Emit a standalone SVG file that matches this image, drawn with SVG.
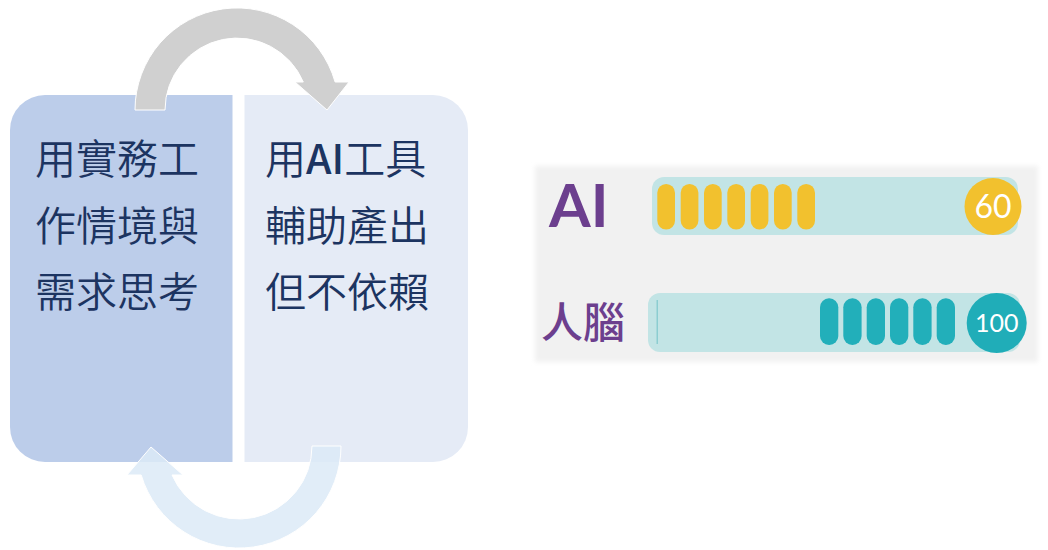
<svg xmlns="http://www.w3.org/2000/svg" width="1048" height="550" viewBox="0 0 1048 550">
<defs>
<style>
.cjk{font-family:"Noto Sans CJK TC","Noto Sans CJK SC",sans-serif;font-size:41px;font-weight:350;fill:#1C3461}
.lbl{font-family:"Noto Sans CJK TC","Noto Sans CJK SC",sans-serif;fill:#6C3F8E;font-weight:700}
.num{font-family:Lato,"Open Sans",sans-serif;fill:#FFFFFF;text-anchor:middle}
.bar{fill:#C2E4E5}
.py{fill:#F2C12E}
.pt{fill:#22AFBA}
</style>
<filter id="soft" x="-5%" y="-10%" width="110%" height="120%"><feGaussianBlur stdDeviation="2.5"/></filter>
</defs>
<rect width="1048" height="550" fill="#FFFFFF"/>
<g id="panel-left">
<path d="M45,95 H232.5 V462 H45 A35,35 0 0 1 10,427 V130 A35,35 0 0 1 45,95 Z" fill="#BCCDEA"/>
<text class="cjk" x="35" y="174">用實務工</text>
<text class="cjk" x="35" y="241">作情境與</text>
<text class="cjk" x="35" y="307">需求思考</text>
</g>
<g id="panel-right">
<path d="M244.5,95 H433 A35,35 0 0 1 468,130 V427 A35,35 0 0 1 433,462 H244.5 Z" fill="#E5EBF6"/>
<text class="cjk" x="265" y="174">用<tspan style="font-weight:500">AI</tspan>工具</text>
<text class="cjk" x="265" y="241">輔助產出</text>
<text class="cjk" x="265" y="307">但不依賴</text>
</g>
<g id="connectors">
<path d="M135,110 A102,102 0 0 1 335.1,82 L349,82 L327,110 L295,82 L303.3,82 A72,72 0 0 0 165,110 Z" fill="#D0D0D0" stroke="#FFFFFF" stroke-width="1"/>
<path d="M341,446 A102,102 0 0 1 141.2,475 L127,475 L151,447 L183,475 L172,475 A73,73 0 0 0 312,446 Z" fill="#DCEAF7" fill-opacity="0.85" stroke="#FFFFFF" stroke-width="1"/>
</g>
<g id="gauge">
<rect x="535" y="166" width="503" height="196" fill="#F1F1F1" filter="url(#soft)"/>
<text class="lbl" x="549" y="227" style="font-family:Lato,'Open Sans',sans-serif;font-size:60px">AI</text>
<rect class="bar" x="652" y="177" width="366" height="58" rx="12"/>
<rect class="py" x="657.3" y="184" width="17.7" height="45.5" rx="8.8"/>
<rect class="py" x="680.7" y="184" width="17.7" height="45.5" rx="8.8"/>
<rect class="py" x="704" y="184" width="17.7" height="45.5" rx="8.8"/>
<rect class="py" x="727.3" y="184" width="17.7" height="45.5" rx="8.8"/>
<rect class="py" x="750.7" y="184" width="17.7" height="45.5" rx="8.8"/>
<rect class="py" x="774" y="184" width="17.7" height="45.5" rx="8.8"/>
<rect class="py" x="797.3" y="184" width="17.7" height="45.5" rx="8.8"/>
<circle cx="993" cy="206.5" r="28.5" fill="#F2C12E"/>
<text class="num" x="993" y="218" style="font-size:32px">60</text>
<text class="lbl" x="541" y="338" style="font-size:42px;font-weight:500">人腦</text>
<rect class="bar" x="648" y="293" width="372" height="59" rx="12"/>
<rect x="656.5" y="300" width="1.5" height="44" fill="#8CCDD1"/>
<rect class="pt" x="820" y="298.3" width="18.3" height="46.7" rx="9"/>
<rect class="pt" x="843.3" y="298.3" width="18.3" height="46.7" rx="9"/>
<rect class="pt" x="866.7" y="298.3" width="18.3" height="46.7" rx="9"/>
<rect class="pt" x="890" y="298.3" width="18.3" height="46.7" rx="9"/>
<rect class="pt" x="913.3" y="298.3" width="18.3" height="46.7" rx="9"/>
<rect class="pt" x="936.7" y="298.3" width="18.3" height="46.7" rx="9"/>
<circle cx="996.7" cy="323" r="30" fill="#20ADB8"/>
<text class="num" x="996.7" y="332" style="font-size:25px">100</text>
</g>
</svg>
